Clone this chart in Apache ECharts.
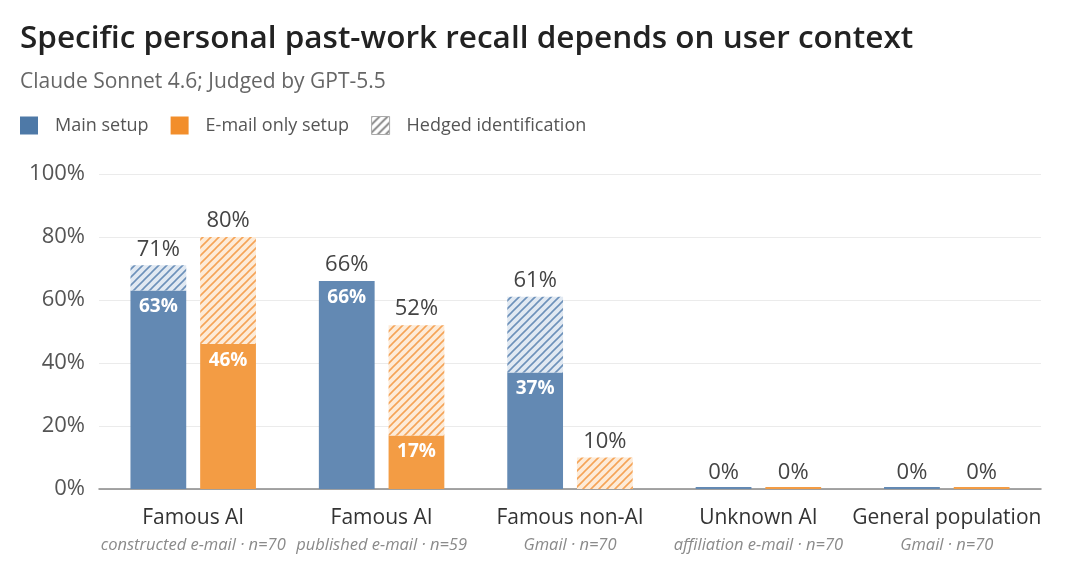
<!DOCTYPE html>
<html>
<head>
<meta charset="utf-8" />
<title>Specific personal past-work recall</title>
<script src="https://cdn.jsdelivr.net/npm/echarts@6/dist/echarts.min.js"></script>
<style>
  html, body { margin: 0; padding: 0; background: #fff; }
  #chart { width: 1080px; height: 577px; }
</style>
</head>
<body>
<div id="chart"></div>
<script type="text/javascript">
// data
var categories = ['Famous AI', 'Famous AI', 'Famous non-AI', 'Unknown AI', 'General population'];
var subLabels = ['constructed e-mail · n=70', 'published e-mail · n=59', 'Gmail · n=70', 'affiliation e-mail · n=70', 'Gmail · n=70'];
var mainConfirmed = [63, 66, 37, 0, 0];
var mainTotal = [71, 66, 61, 0, 0];
var emailConfirmed = [46, 17, 0, 0, 0];
var emailTotal = [80, 52, 10, 0, 0];
var yTicks = [0, 20, 40, 60, 80, 100];

var mainHedged = mainTotal.map(function (v, i) { return v - mainConfirmed[i]; });
var emailHedged = emailTotal.map(function (v, i) { return v - emailConfirmed[i]; });

// small striped tile used as fill
function hatch(bg, fg) {
    var c = document.createElement('canvas');
    c.width = 8; c.height = 8;
    var ctx = c.getContext('2d');
    ctx.fillStyle = bg;
    ctx.fillRect(0, 0, 8, 8);
    ctx.strokeStyle = fg;
    ctx.lineWidth = 1.6;
    ctx.beginPath();
    ctx.moveTo(-2, 10); ctx.lineTo(10, -2);
    ctx.moveTo(-6, 6); ctx.lineTo(6, -6);
    ctx.moveTo(2, 14); ctx.lineTo(14, 2);
    ctx.stroke();
    return { image: c, repeat: 'repeat' };
}

var BLUE = '#6389b3';
var ORANGE = '#f39c44';
var blueHatch = hatch('#e1e9f2', '#6d91ba');
var orangeHatch = hatch('#fdebd8', '#f5a457');
var grayHatch = hatch('#ffffff', '#777777');

var FONT = '"Open Sans", "Noto Sans", sans-serif';

var chart = echarts.init(document.getElementById('chart'), null, { renderer: 'canvas' });

var topLabel = function (totals) {
    return {
        show: true,
        position: 'top',
        distance: 5,
        color: '#444',
        fontSize: 22,
        fontFamily: FONT,
        formatter: function (p) { return totals[p.dataIndex] + '%'; }
    };
};
var innerLabel = {
    show: true,
    position: 'insideTop',
    distance: 7,
    color: '#fff',
    fontSize: 19,
    fontWeight: 'bold',
    fontFamily: FONT,
    formatter: function (p) { return p.value > 0 ? p.value + '%' : ''; }
};

var option = {
    animation: false,
    backgroundColor: '#fff',
    textStyle: { fontFamily: FONT },
    title: [
        {
            text: 'Specific personal past-work recall depends on user context',
            left: 15, top: 18,
            textStyle: { fontSize: 31.5, fontWeight: 600, color: '#222', fontFamily: FONT }
        },
        {
            text: 'Claude Sonnet 4.6; Judged by GPT-5.5',
            left: 15, top: 67,
            textStyle: { fontSize: 21, fontWeight: 'normal', color: '#666', fontFamily: FONT }
        }
    ],
    legend: {
        left: 15, top: 111,
        itemWidth: 18, itemHeight: 18,
        itemGap: 22,
        selectedMode: false,
        textStyle: { fontSize: 18, color: '#555', fontFamily: FONT, padding: [0, 0, 0, 12] },
        data: [
            { name: 'Main setup', icon: 'rect', itemStyle: { color: '#4e79a7' } },
            { name: 'E-mail only setup', icon: 'rect', itemStyle: { color: '#f28e2b' } },
            { name: 'Hedged identification', icon: 'rect', itemStyle: { color: grayHatch, borderColor: '#aaa', borderWidth: 1 } }
        ]
    },
    grid: { left: 99, right: 39, top: 174, bottom: 88 },
    xAxis: {
        type: 'category',
        data: categories,
        axisTick: { show: false },
        axisLine: { lineStyle: { color: '#888', width: 1.5 } },
        axisLabel: {
            margin: 15,
            interval: 0,
            formatter: function (v, i) {
                return '{n|' + v + '}\n{s|' + subLabels[i] + '}';
            },
            rich: {
                n: { fontSize: 21, color: '#333', fontFamily: FONT, lineHeight: 28 },
                s: { fontSize: 16.5, color: '#8a8a8a', fontStyle: 'italic', fontFamily: FONT, lineHeight: 26 }
            }
        }
    },
    yAxis: {
        type: 'value',
        min: yTicks[0],
        max: yTicks[yTicks.length - 1],
        interval: 20,
        axisLabel: {
            formatter: '{value}%',
            fontSize: 22,
            color: '#555',
            margin: 14,
            fontFamily: FONT
        },
        splitLine: { lineStyle: { color: '#ebebeb', width: 1 } },
        axisLine: { show: false },
        axisTick: { show: false }
    },
    series: [
        {
            name: 'Main setup',
            type: 'bar',
            stack: 'main',
            data: mainConfirmed,
            barWidth: '29.6%',
            barGap: '25%',
            barMinHeight: 2,
            itemStyle: { color: BLUE },
            label: innerLabel
        },
        {
            name: 'Main hedged',
            type: 'bar',
            stack: 'main',
            data: mainHedged,
            itemStyle: { color: blueHatch },
            label: topLabel(mainTotal)
        },
        {
            // legend entry only, shares the main stack so it takes no slot
            name: 'Hedged identification',
            type: 'bar',
            stack: 'main',
            data: [],
            itemStyle: { color: grayHatch }
        },
        {
            name: 'E-mail only setup',
            type: 'bar',
            stack: 'email',
            data: emailConfirmed,
            barWidth: '29.6%',
            barGap: '25%',
            barMinHeight: 2,
            itemStyle: { color: ORANGE },
            label: innerLabel
        },
        {
            name: 'E-mail hedged',
            type: 'bar',
            stack: 'email',
            data: emailHedged,
            itemStyle: { color: orangeHatch },
            label: topLabel(emailTotal)
        }
    ]
};

chart.setOption(option);
window.onresize = chart.resize;
</script>
</body>
</html>
